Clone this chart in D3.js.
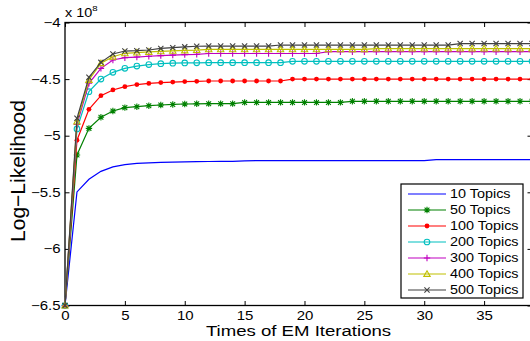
<!DOCTYPE html>
<html>
<head>
<meta charset="utf-8">
<script src="https://cdn.jsdelivr.net/npm/d3@7"></script>
<style>
  body { margin: 0; background: #fff; }
  svg { display: block; overflow: hidden; }
  text { font-family: "Liberation Sans", Arial, Helvetica, sans-serif; fill: #000; }
</style>
</head>
<body>
<div id="chart"></div>
<script>
// iterations 0..39 (x categories)
const iterations = d3.range(0, 40);

const seriesNames = ["10 Topics", "50 Topics", "100 Topics", "200 Topics", "300 Topics", "400 Topics", "500 Topics"];
const seriesColors = ["#0000ff", "#008000", "#ff0000", "#00bfbf", "#bf00bf", "#bfbf00", "#404040"];
const seriesMarkers = ["none", "star", "dot", "circle", "plus", "triangle", "cross"];

// log-likelihood values in units of 1e8, one per iteration
const topics10 = [-6.5, -5.497, -5.385, -5.315, -5.276, -5.255, -5.245, -5.240, -5.236, -5.233,
  -5.231, -5.229, -5.228, -5.227, -5.226, -5.222, -5.220, -5.220, -5.220, -5.220,
  -5.220, -5.220, -5.220, -5.220, -5.220, -5.220, -5.220, -5.220, -5.220, -5.220,
  -5.220, -5.212, -5.212, -5.212, -5.212, -5.212, -5.212, -5.212, -5.212, -5.212];
const topics50 = [-6.5, -5.17, -4.935, -4.837, -4.782, -4.752, -4.744, -4.735, -4.729, -4.724,
  -4.720, -4.718, -4.717, -4.717, -4.717, -4.706, -4.706, -4.706, -4.706, -4.706,
  -4.706, -4.706, -4.706, -4.706, -4.696, -4.696, -4.696, -4.696, -4.696, -4.696,
  -4.696, -4.696, -4.696, -4.696, -4.696, -4.696, -4.696, -4.696, -4.696, -4.696];
const topics100 = [-6.5, -5.04, -4.767, -4.646, -4.596, -4.567, -4.548, -4.538, -4.531, -4.526,
  -4.522, -4.520, -4.517, -4.517, -4.517, -4.517, -4.517, -4.517, -4.517, -4.500,
  -4.500, -4.500, -4.500, -4.500, -4.500, -4.500, -4.500, -4.500, -4.500, -4.500,
  -4.500, -4.500, -4.500, -4.500, -4.500, -4.500, -4.500, -4.500, -4.500, -4.500];
const topics200 = [-6.5, -4.94, -4.611, -4.500, -4.440, -4.405, -4.385, -4.372, -4.364, -4.359,
  -4.357, -4.356, -4.355, -4.355, -4.355, -4.355, -4.355, -4.355, -4.355, -4.343,
  -4.343, -4.343, -4.343, -4.343, -4.343, -4.343, -4.343, -4.343, -4.343, -4.343,
  -4.343, -4.343, -4.343, -4.343, -4.343, -4.343, -4.343, -4.343, -4.343, -4.343];
const topics300 = [-6.5, -4.90, -4.537, -4.405, -4.331, -4.311, -4.305, -4.298, -4.293, -4.288,
  -4.284, -4.281, -4.274, -4.274, -4.274, -4.274, -4.274, -4.274, -4.274, -4.274,
  -4.274, -4.274, -4.258, -4.258, -4.258, -4.258, -4.258, -4.258, -4.258, -4.258,
  -4.258, -4.258, -4.258, -4.258, -4.258, -4.258, -4.258, -4.258, -4.258, -4.258];
const topics400 = [-6.5, -4.876, -4.508, -4.360, -4.302, -4.272, -4.266, -4.260, -4.255, -4.250,
  -4.247, -4.244, -4.237, -4.237, -4.237, -4.237, -4.237, -4.237, -4.237, -4.237,
  -4.237, -4.237, -4.237, -4.237, -4.237, -4.237, -4.230, -4.230, -4.230, -4.230,
  -4.230, -4.230, -4.230, -4.230, -4.230, -4.230, -4.230, -4.230, -4.230, -4.230];
const topics500 = [-6.5, -4.846, -4.484, -4.352, -4.278, -4.252, -4.249, -4.243, -4.229, -4.222,
  -4.215, -4.210, -4.208, -4.208, -4.208, -4.208, -4.208, -4.208, -4.199, -4.199,
  -4.199, -4.199, -4.199, -4.199, -4.199, -4.199, -4.199, -4.199, -4.199, -4.199,
  -4.199, -4.199, -4.199, -4.186, -4.186, -4.186, -4.186, -4.186, -4.186, -4.186];

const allSeries = [topics10, topics50, topics100, topics200, topics300, topics400, topics500];

const xTicks = [0, 5, 10, 15, 20, 25, 30, 35];
const yTicks = [-6.5, -6, -5.5, -5, -4.5, -4];

const width = 530, height = 341;
const SX = 1.2; // glyphs in the picture are horizontally stretched

const svg = d3.select("#chart").append("svg")
  .attr("width", width)
  .attr("height", height);

const x = d3.scaleLinear().domain([0, 39]).range([65, 532]);
const y = d3.scaleLinear().domain([-6.5, -4]).range([305.5, 22.5]);

// axes (ticks inward on all four sides)
const tickLen = 4.5;
const fmt = d3.format("");

const gBottom = svg.append("g").attr("transform", `translate(0,${y.range()[0]})`)
  .call(d3.axisBottom(x).tickValues(xTicks).tickSize(-tickLen).tickPadding(5.5).tickFormat(fmt));
const gTop = svg.append("g").attr("transform", `translate(0,${y.range()[1]})`)
  .call(d3.axisTop(x).tickValues(xTicks).tickSize(-tickLen).tickFormat(""));
const gLeft = svg.append("g").attr("transform", `translate(${x.range()[0]},0)`)
  .call(d3.axisLeft(y).tickValues(yTicks).tickSize(-tickLen).tickPadding(4.5).tickFormat(fmt));
const gRight = svg.append("g").attr("transform", `translate(${x.range()[1]},0)`)
  .call(d3.axisRight(y).tickValues(yTicks).tickSize(-tickLen).tickFormat(""));

[gBottom, gTop, gLeft, gRight].forEach(g => {
  g.select(".domain").remove();
  g.selectAll(".tick line").attr("stroke", "#000").attr("stroke-width", 1);
});

gBottom.selectAll(".tick text")
  .attr("font-size", 12.5)
  .attr("font-family", "Liberation Sans, Arial, sans-serif")
  .attr("transform", `scale(${SX},1)`);
gLeft.selectAll(".tick text")
  .attr("font-size", 12.5)
  .attr("font-family", "Liberation Sans, Arial, sans-serif")
  .attr("x", -4.5 / SX)
  .attr("transform", `scale(${SX},1)`);

// axes box
svg.append("rect")
  .attr("x", x.range()[0])
  .attr("y", y.range()[1])
  .attr("width", x.range()[1] - x.range()[0])
  .attr("height", y.range()[0] - y.range()[1])
  .attr("fill", "none")
  .attr("stroke", "#000")
  .attr("stroke-width", 1.3);

// marker shapes
function markerPath(kind, s) {
  if (kind === "plus") return `M${-s},0H${s}M0,${-s}V${s}`;
  if (kind === "cross") return `M${-s},${-s}L${s},${s}M${-s},${s}L${s},${-s}`;
  if (kind === "star") {
    const d = s * 0.75;
    return `M${-s},0H${s}M0,${-s}V${s}M${-d},${-d}L${d},${d}M${-d},${d}L${d},${-d}`;
  }
  if (kind === "triangle") return `M0,${-s}L${s},${s * 0.75}L${-s},${s * 0.75}Z`;
  return "";
}

function drawMarker(g, kind, color, cx, cy) {
  if (kind === "none") return;
  if (kind === "dot") {
    g.append("circle").attr("cx", cx).attr("cy", cy).attr("r", 2.4).attr("fill", color);
  } else if (kind === "circle") {
    g.append("circle").attr("cx", cx).attr("cy", cy).attr("r", 2.8)
      .attr("fill", "none").attr("stroke", color).attr("stroke-width", 1.1);
  } else {
    g.append("path").attr("transform", `translate(${cx},${cy})`)
      .attr("d", markerPath(kind, kind === "cross" ? 2.6 : 3.2))
      .attr("fill", "none").attr("stroke", color).attr("stroke-width", 1.1);
  }
}

// series lines and markers
const line = d3.line().x((d, i) => x(iterations[i])).y(d => y(d));

allSeries.forEach((vals, k) => {
  const g = svg.append("g");
  g.append("path")
    .attr("d", line(vals))
    .attr("fill", "none")
    .attr("stroke", seriesColors[k])
    .attr("stroke-width", 1.2);
  vals.forEach((v, i) => drawMarker(g, seriesMarkers[k], seriesColors[k], x(iterations[i]), y(v)));
});

// labels
function stretchedText(px, py, str, size, anchor) {
  return svg.append("text")
    .attr("transform", `translate(${px},${py}) scale(${SX},1)`)
    .attr("font-size", size)
    .attr("text-anchor", anchor)
    .text(str);
}

stretchedText((x.range()[0] + x.range()[1]) / 2, 336, "Times of EM Iterations", 15.5, "middle");

svg.append("text")
  .attr("transform", "translate(25,171) rotate(-90)")
  .attr("font-size", 21)
  .attr("text-anchor", "middle")
  .text("Log\u2212Likelihood");

const expo = svg.append("text")
  .attr("transform", `translate(65,16.5) scale(${SX},1)`)
  .attr("font-size", 12);
expo.append("tspan").text("x 10");
expo.append("tspan").attr("font-size", 8).attr("dy", -6).text("8");

// legend
const lg = svg.append("g");
const lgX = 401, lgY = 184, lgW = 122, lgH = 114, rowH = 16;
lg.append("rect")
  .attr("x", lgX).attr("y", lgY).attr("width", lgW).attr("height", lgH)
  .attr("fill", "#fff").attr("stroke", "#000").attr("stroke-width", 1.2);

seriesNames.forEach((name, k) => {
  const ry = lgY + 10 + k * rowH;
  lg.append("line")
    .attr("x1", lgX + 7).attr("x2", lgX + 45)
    .attr("y1", ry).attr("y2", ry)
    .attr("stroke", seriesColors[k]).attr("stroke-width", 1.2);
  drawMarker(lg, seriesMarkers[k], seriesColors[k], lgX + 26, ry);
  lg.append("text")
    .attr("transform", `translate(${lgX + 49},${ry + 4.3}) scale(${SX},1)`)
    .attr("font-size", 12)
    .text(name);
});
</script>
</body>
</html>
